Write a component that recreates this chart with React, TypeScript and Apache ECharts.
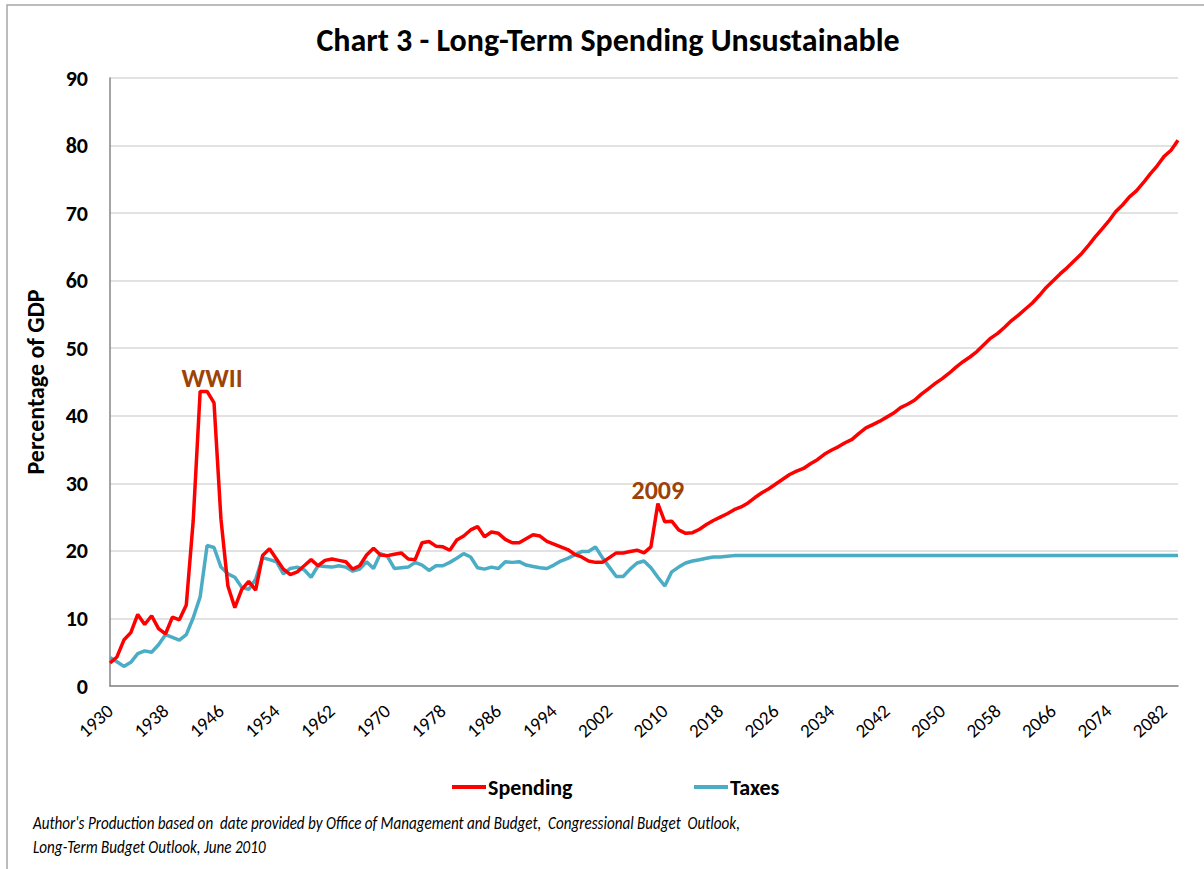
import React, { useEffect, useRef } from "react";
import * as echarts from "echarts";

const FONT = "Carlito, Lato, sans-serif";

const startYear = 1930;
const endYear = 2084;
const years: string[] = [];
for (let y = startYear; y <= endYear; y++) years.push(String(y));

// Spending, % of GDP
const spendingHistory = [
  3.4, 4.3, 6.8, 7.9, 10.6, 9.1, 10.4, 8.5, 7.7, 10.2, // 1930s
  9.8, 12.0, 24.5, 43.6, 43.6, 41.9, 24.7, 14.8, 11.6, 14.3, // 1940s
  15.5, 14.2, 19.3, 20.3, 18.8, 17.3, 16.5, 16.9, 17.8, 18.7, // 1950s
  17.8, 18.6, 18.8, 18.6, 18.4, 17.3, 17.8, 19.4, 20.4, 19.4, // 1960s
  19.3, 19.5, 19.7, 18.8, 18.7, 21.2, 21.4, 20.7, 20.6, 20.1, // 1970s
  21.6, 22.2, 23.1, 23.6, 22.1, 22.8, 22.6, 21.7, 21.2, 21.2, // 1980s
  21.8, 22.4, 22.2, 21.4, 21.0, 20.6, 20.2, 19.5, 19.1, 18.5, // 1990s
  18.3, 18.3, 19.0, 19.7, 19.7, 19.9, 20.1, 19.7, 20.6, 27.0, // 2000s
];
const spendingProjection = [
  24.3, 24.4, 23.1, 22.6, 22.7, 23.2, 23.9, 24.5, 25.0, 25.5, // 2010s
  26.1, 26.5, 27.1, 27.9, 28.6, 29.2, 29.9, 30.6, 31.3, 31.8, // 2020s
  32.2, 32.9, 33.5, 34.3, 34.9, 35.4, 36.0, 36.5, 37.4, 38.2, // 2030s
  38.7, 39.2, 39.8, 40.4, 41.2, 41.7, 42.3, 43.2, 44.0, 44.8, // 2040s
  45.5, 46.3, 47.2, 48.0, 48.7, 49.5, 50.5, 51.5, 52.2, 53.1, // 2050s
  54.1, 54.9, 55.8, 56.7, 57.8, 59.0, 60.0, 61.0, 61.9, 62.9, // 2060s
  63.9, 65.1, 66.4, 67.6, 68.8, 70.2, 71.2, 72.4, 73.3, 74.5, // 2070s
  75.8, 77.0, 78.4, 79.3, 80.8, // 2080-2084
];

// Taxes, % of GDP
const taxesHistory = [
  4.2, 3.6, 2.9, 3.5, 4.8, 5.2, 5.0, 6.1, 7.6, 7.2, // 1930s
  6.8, 7.6, 10.1, 13.2, 20.8, 20.5, 17.6, 16.6, 16.1, 14.6, // 1940s
  14.3, 15.8, 19.0, 18.7, 18.4, 16.6, 17.4, 17.6, 17.2, 16.1, // 1950s
  17.8, 17.7, 17.6, 17.8, 17.6, 17.0, 17.3, 18.4, 17.4, 19.6, // 1960s
  19.2, 17.4, 17.5, 17.6, 18.3, 17.9, 17.1, 17.8, 17.8, 18.3, // 1970s
  18.9, 19.6, 19.1, 17.5, 17.3, 17.6, 17.4, 18.4, 18.3, 18.4, // 1980s
  17.9, 17.7, 17.5, 17.4, 17.9, 18.5, 18.9, 19.4, 19.9, 19.9, // 1990s
  20.6, 19.0, 17.6, 16.2, 16.2, 17.3, 18.2, 18.5, 17.5, 16.1, // 2000s
];
const taxesProjection = [
  14.8, 16.9, 17.6, 18.2, 18.5, 18.7, 18.9, 19.1, 19.1, 19.2, // 2010s
  19.3, 19.3, 19.3, 19.3, 19.3, 19.3, 19.3, 19.3, 19.3, 19.3, // 2020s
  19.3, 19.3, 19.3, 19.3, 19.3, 19.3, 19.3, 19.3, 19.3, 19.3, // 2030s
  19.3, 19.3, 19.3, 19.3, 19.3, 19.3, 19.3, 19.3, 19.3, 19.3, // 2040s
  19.3, 19.3, 19.3, 19.3, 19.3, 19.3, 19.3, 19.3, 19.3, 19.3, // 2050s
  19.3, 19.3, 19.3, 19.3, 19.3, 19.3, 19.3, 19.3, 19.3, 19.3, // 2060s
  19.3, 19.3, 19.3, 19.3, 19.3, 19.3, 19.3, 19.3, 19.3, 19.3, // 2070s
  19.3, 19.3, 19.3, 19.3, 19.3, // 2080-2084
];

const spending = spendingHistory.concat(spendingProjection);
const taxes = taxesHistory.concat(taxesProjection);

const annotations = [
  { name: "WWII", year: "1944", value: 43.6, dx: 5 },
  { name: "2009", year: "2009", value: 27.0, dx: 0 },
];

const titleText = "Chart 3 - Long-Term Spending Unsustainable";
const footnote =
  "Author's Production based on  date provided by Office of Management and Budget,  Congressional Budget  Outlook,\nLong-Term Budget Outlook, June 2010";

const RED = "#ff0000";
const BLUE = "#4bacc6";
const BROWN = "#9c4306";
const AXIS = "#868686";
const GRID = "#d9d9d9";

export default function App() {
  const ref = useRef<HTMLDivElement>(null);
  useEffect(() => {
    if (!ref.current) return;
    const chart = echarts.init(ref.current, undefined, { renderer: "svg" });
    const legendCommon = {
      top: 771,
      itemWidth: 34,
      itemHeight: 4,
      icon: "rect",
      itemGap: 4,
      textStyle: { fontSize: 22, fontWeight: "bold", color: "#000", fontFamily: FONT, padding: [0, 0, 0, -3] },
    };
    chart.setOption({
      animation: false,
      backgroundColor: "#fff",
      textStyle: { fontFamily: FONT },
      grid: { left: 110, right: 26, top: 78, bottom: 183 },
      xAxis: {
        type: "category",
        data: years,
        boundaryGap: false,
        axisLine: { lineStyle: { color: AXIS, width: 1.5 } },
        axisTick: { show: false },
        axisLabel: { interval: 7, rotate: 42, fontSize: 19, color: "#000", fontFamily: FONT, margin: 22 },
        splitLine: { show: false },
      },
      yAxis: {
        type: "value",
        min: 0,
        max: 90,
        interval: 10,
        name: "Percentage of GDP",
        nameLocation: "middle",
        nameGap: 63,
        nameTextStyle: { fontSize: 24, fontWeight: "bold", color: "#000", fontFamily: FONT },
        axisLine: { show: true, lineStyle: { color: AXIS, width: 1.5 } },
        axisTick: { show: false },
        axisLabel: { fontSize: 22, fontWeight: "bold", color: "#000", fontFamily: FONT, margin: 22 },
        splitLine: { lineStyle: { color: GRID, width: 1.5 } },
      },
      legend: [
        { ...legendCommon, left: 447, data: ["Spending"] },
        { ...legendCommon, left: 689, data: ["Taxes"] },
      ],
      series: [
        {
          name: "Taxes",
          type: "line",
          data: taxes,
          showSymbol: false,
          symbol: "none",
          lineStyle: { color: BLUE, width: 3.5 },
          itemStyle: { color: BLUE },
          z: 2,
        },
        {
          name: "Spending",
          type: "line",
          data: spending,
          showSymbol: false,
          symbol: "none",
          lineStyle: { color: RED, width: 3.5 },
          itemStyle: { color: RED },
          z: 3,
          markPoint: {
            symbol: "circle",
            symbolSize: 1,
            itemStyle: { color: "rgba(0,0,0,0)" },
            label: {
              show: true,
              position: "top",
              distance: 0,
              formatter: "{b}",
              color: BROWN,
              fontSize: 26,
              fontWeight: "bold",
              fontFamily: FONT,
            },
            data: annotations.map((a) => ({
              name: a.name,
              coord: [a.year, a.value],
              label: { offset: [a.dx, 0] },
            })),
          },
        },
      ],
      graphic: [
        {
          type: "rect",
          silent: true,
          z: -10,
          shape: { x: 7, y: 5, width: 1400, height: 1000 },
          style: { fill: "none", stroke: "#a6a6a6", lineWidth: 1.5 },
        },
        {
          type: "text",
          x: 608,
          y: 40,
          style: {
            text: titleText,
            align: "center",
            verticalAlign: "middle",
            fontSize: 32,
            fontWeight: "bold",
            fill: "#000",
            fontFamily: FONT,
          },
        },
        {
          type: "text",
          x: 33,
          y: 811,
          scaleX: 0.84,
          style: {
            text: footnote,
            fontSize: 18,
            fontStyle: "italic",
            lineHeight: 24,
            fill: "#000",
            fontFamily: FONT,
          },
        },
      ],
    });
    return () => chart.dispose();
  }, []);
  return (
    <div
      ref={ref}
      style={{ position: "absolute", left: 0, top: 0, width: 1204, height: 869 }}
    />
  );
}
